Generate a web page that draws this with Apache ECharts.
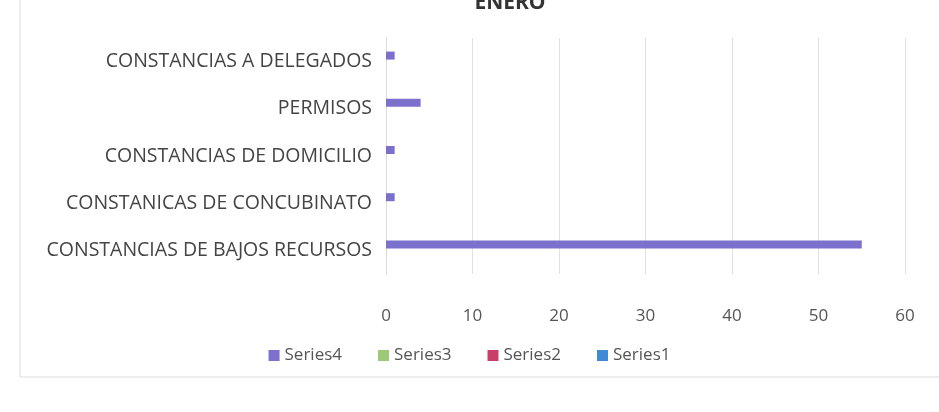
<!DOCTYPE html>
<html>
<head>
<meta charset="utf-8">
<script src="https://cdn.jsdelivr.net/npm/echarts@6/dist/echarts.min.js"></script>
<style>html,body{margin:0;padding:0;background:#fff;}#c{width:939px;height:412px;}</style>
</head>
<body>
<div id="c"></div>
<script>
const categories = ['CONSTANCIAS DE BAJOS RECURSOS', 'CONSTANICAS DE CONCUBINATO', 'CONSTANCIAS DE DOMICILIO', 'PERMISOS', 'CONSTANCIAS A DELEGADOS'];
const series1 = [0, 0, 0, 0, 0];
const series2 = [0, 0, 0, 0, 0];
const series3 = [0, 0, 0, 0, 0];
const series4 = [55, 1, 1, 4, 1];
const xTicks = [0, 10, 20, 30, 40, 50, 60];

const font = '"Open Sans", "Noto Sans", sans-serif';
const chart = echarts.init(document.getElementById('c'));
chart.setOption({
  backgroundColor: '#ffffff',
  animation: false,
  title: {
    text: 'ENERO', left: 505, top: -12, textAlign: 'center',
    textStyle: {fontFamily: font, fontSize: 21, fontWeight: 'bold', color: '#333'}
  },
  legend: {
    data: ['Series4', 'Series3', 'Series2', 'Series1'],
    left: 'center', top: 342,
    icon: 'rect', itemWidth: 11, itemHeight: 11, itemGap: 36,
    textStyle: {fontFamily: font, fontSize: 17, color: '#555'}
  },
  grid: {left: 386, right: 34, top: 38, bottom: 138, containLabel: false},
  xAxis: {
    type: 'value', min: 0, max: 60, interval: 10,
    axisLine: {show: false}, axisTick: {show: false},
    splitLine: {lineStyle: {color: '#e0e0e0'}},
    axisLabel: {margin: 34, fontFamily: font, fontSize: 17, color: '#555',
      formatter: v => xTicks.includes(v) ? String(v) : ''}
  },
  yAxis: {
    type: 'category', data: categories,
    axisLine: {lineStyle: {color: '#dcdcdc'}}, axisTick: {show: false},
    axisLabel: {margin: 14, fontFamily: font, fontSize: 19.5, color: '#444'}
  },
  series: [
    {name: 'Series4', type: 'bar', data: series4, itemStyle: {color: '#7b70cc'}, barWidth: 8, barGap: '-50%'},
    {name: 'Series3', type: 'bar', data: series3, itemStyle: {color: '#9dc878'}, barWidth: 8},
    {name: 'Series2', type: 'bar', data: series2, itemStyle: {color: '#c8406a'}, barWidth: 8},
    {name: 'Series1', type: 'bar', data: series1, itemStyle: {color: '#3e8ad6'}, barWidth: 8}
  ],
  graphic: [{
    type: 'rect', shape: {x: 20, y: -5, width: 930, height: 382},
    style: {fill: 'none', stroke: '#dddddd', lineWidth: 1}, silent: true
  }]
});
</script>
</body>
</html>
